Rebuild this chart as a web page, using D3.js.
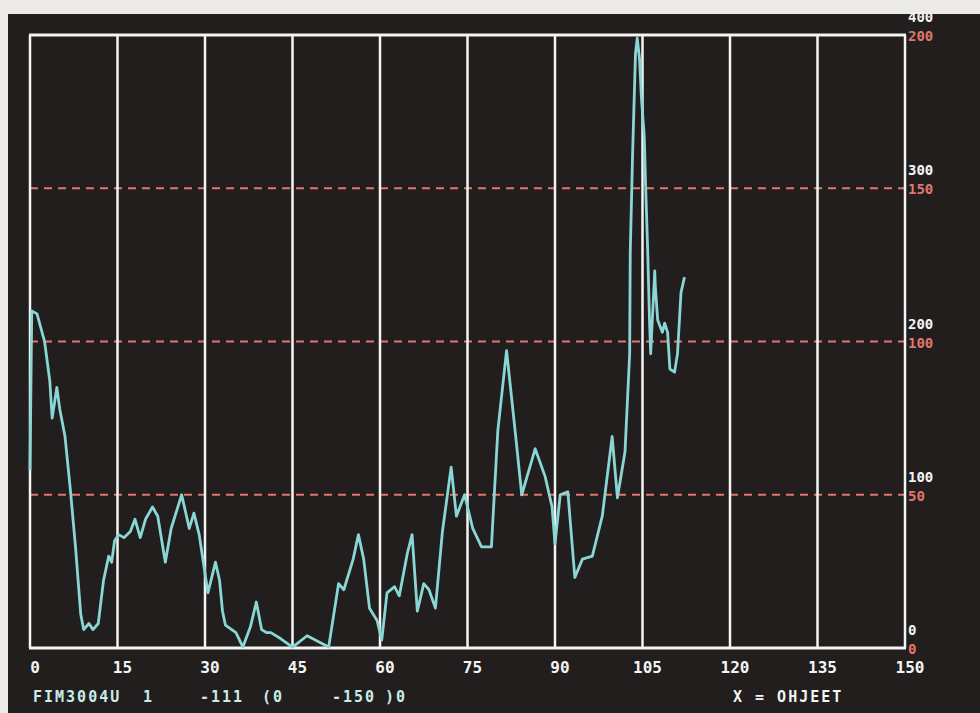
<!DOCTYPE html>
<html>
<head>
<meta charset="utf-8">
<script src="https://cdn.jsdelivr.net/npm/d3@7"></script>
<style>
  html, body { margin: 0; padding: 0; background: #ecebe8; }
  svg { display: block; }
  text { font-family: "DejaVu Sans Mono", monospace; font-weight: bold; }
</style>
</head>
<body>
<svg id="chart"></svg>
<script>
// values (x = sample, y on the red 0-200 scale)
const xValues = [0, 0.3, 1.2, 2.5, 3.4, 3.8, 4.6, 5.1, 6, 6.9, 7.8, 8.7, 9.2, 10.1, 10.8, 11.7,
  12.6, 13.5, 14, 14.5, 15.2, 16.1, 17.2, 18, 18.9, 19.8, 21, 21.9, 23.2, 24.2, 26, 27.3, 28.1,
  29, 30.5, 31.8, 32.5, 33, 33.5, 35.3, 36.5, 37.8, 38.8, 39.7, 40.6, 41.3, 43, 45, 45.9, 47.5,
  48.9, 51.2, 52.9, 53.8, 55.4, 56.3, 57.2, 58.2, 59.5, 60.3, 61.2, 62.5, 63.3, 64.7, 65.5,
  66.4, 67.5, 68.4, 69.5, 70.7, 72.2, 73.1, 74.5, 75.9, 77.4, 79.1, 80.2, 81.7, 83.1, 84.3,
  86.6, 88.3, 89.5, 90, 90.9, 92.2, 93.4, 94.7, 96.4, 98.1, 99.8, 100.7, 102, 102.8, 102.9,
  103.3, 103.8, 104.1, 104.5, 104.8, 105.3, 105.5, 105.9, 106.2, 106.4, 107.1, 107.2, 107.6,
  108.4, 108.8, 109.3, 109.7, 110.5, 111, 111.6, 112.2];
const yValues = [58, 110, 109, 100, 87, 75, 85, 78, 69, 52, 33, 11, 6, 8, 6, 8,
  22, 30, 28, 35, 37, 36, 38, 42, 36, 42, 46, 43, 28, 39, 50, 39, 44,
  37, 18, 28, 22, 12, 7.5, 5, 0.3, 7, 15, 6, 5, 5, 3, 0.3, 1.6, 4,
  2.6, 0.3, 21, 19, 29, 37, 29, 13, 9, 2.6, 18, 20, 17, 31, 37,
  12, 21, 19, 13, 38, 59, 43, 50, 39, 33, 33, 71, 97, 72, 50,
  65, 56, 46, 34, 50, 51, 23, 29, 30, 43, 69, 49, 64, 96, 129,
  161, 194, 199, 192, 180, 167, 153, 129, 107, 96, 123, 118, 107,
  103, 106, 103, 91, 90, 96, 116, 121];

const xTicks = [0, 15, 30, 45, 60, 75, 90, 105, 120, 135, 150];
const redTicks = [0, 50, 100, 150, 200];
const whiteTicks = [0, 100, 200, 300, 400];
const statusItems = ["FIM3004U", "1", "-111", "(0", "-150", ")0", "X = OHJEET"];

const data = xValues.map((x, i) => ({ x, y: yValues[i] }));

const width = 980;
const height = 713;
const margin = {top: 35, right: 75, bottom: 65, left: 30};

const x = d3.scaleLinear()
    .domain([0, 150])
    .range([margin.left, width - margin.right]);

const yRed = d3.scaleLinear()
    .domain([0, 200])
    .range([height - margin.bottom, margin.top]);

const yWhite = d3.scaleLinear()
    .domain([0, 400])
    .range([height - margin.bottom, margin.top]);

const svg = d3.select("#chart")
    .attr("width", width)
    .attr("height", height)
    .attr("viewBox", [0, 0, width, height]);

// the screen
svg.append("rect")
    .attr("x", 8).attr("y", 14)
    .attr("width", width - 8).attr("height", height - 14)
    .attr("fill", "#221e1e");

// red dashed level lines
svg.append("g")
  .selectAll("line")
  .data(redTicks.filter(d => d > 0 && d < 200))
  .join("line")
    .attr("x1", x(0)).attr("x2", x(150))
    .attr("y1", d => yRed(d)).attr("y2", d => yRed(d))
    .attr("stroke", "#e0766c")
    .attr("stroke-width", 2)
    .attr("stroke-dasharray", "8,6");

// vertical white grid
svg.append("g")
  .selectAll("line")
  .data(xTicks)
  .join("line")
    .attr("x1", d => x(d)).attr("x2", d => x(d))
    .attr("y1", yRed(200)).attr("y2", yRed(0))
    .attr("stroke", "#f4f4f2")
    .attr("stroke-width", 2.5);

// top and bottom frame
svg.append("g")
  .selectAll("line")
  .data([0, 200])
  .join("line")
    .attr("x1", x(0) - 1).attr("x2", x(150) + 1)
    .attr("y1", d => yRed(d)).attr("y2", d => yRed(d))
    .attr("stroke", "#f4f4f2")
    .attr("stroke-width", 3);

const line = d3.line()
    .x(d => x(d.x))
    .y(d => yRed(d.y));

svg.append("path")
    .datum(data)
    .attr("fill", "none")
    .attr("stroke", "#8ad6d4")
    .attr("stroke-width", 2.8)
    .attr("stroke-linejoin", "round")
    .attr("d", line);

// x labels
svg.append("g")
  .selectAll("text")
  .data(xTicks)
  .join("text")
    .attr("x", d => x(d) + 5)
    .attr("y", height - margin.bottom + 25)
    .attr("text-anchor", "middle")
    .attr("fill", "#f4f4f2")
    .attr("font-size", 16)
    .text(d => d);

// right-hand labels: white 0-400 above the red 0-200 ones
svg.append("g")
  .selectAll("text")
  .data(whiteTicks)
  .join("text")
    .attr("x", x(150) + 3)
    .attr("y", d => yWhite(d) - 13)
    .attr("fill", "#f4f4f2")
    .attr("font-size", 14)
    .text(d => d);

svg.append("g")
  .selectAll("text")
  .data(redTicks)
  .join("text")
    .attr("x", x(150) + 3)
    .attr("y", d => yRed(d) + 6)
    .attr("fill", "#e0766c")
    .attr("font-size", 14)
    .text(d => d);

// status line
const statusX = [33, 143, 200, 262, 332, 385, 733];
svg.append("g")
  .selectAll("text")
  .data(statusItems)
  .join("text")
    .attr("x", (d, i) => statusX[i])
    .attr("y", 702)
    .attr("fill", (d, i) => i < 6 ? "#c8ecea" : "#f4f4f2")
    .attr("font-size", 15)
    .attr("letter-spacing", 2)
    .text(d => d);
</script>
</body>
</html>
